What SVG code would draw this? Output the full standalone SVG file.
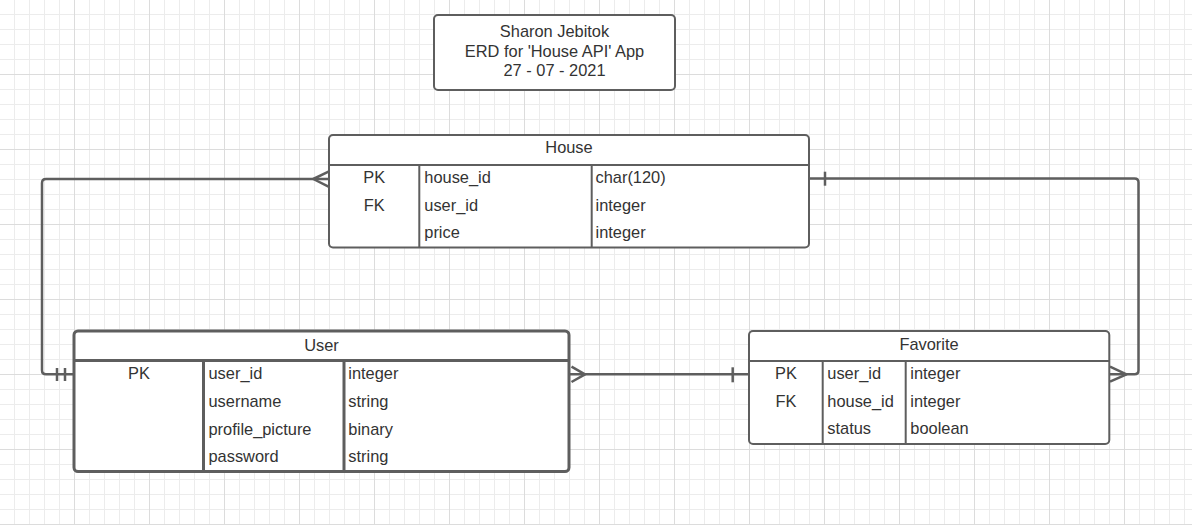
<svg xmlns="http://www.w3.org/2000/svg" width="1192" height="525" viewBox="0 0 1192 525">
  <defs>
    <pattern id="grid" patternUnits="userSpaceOnUse" x="0" y="0" width="75" height="75">
      <rect x="14" y="0" width="1" height="75" fill="#ececec"/>
      <rect x="29" y="0" width="1" height="75" fill="#ececec"/>
      <rect x="44" y="0" width="1" height="75" fill="#ececec"/>
      <rect x="59" y="0" width="1" height="75" fill="#ececec"/>
      <rect x="0" y="14" width="75" height="1" fill="#ececec"/>
      <rect x="0" y="29" width="75" height="1" fill="#ececec"/>
      <rect x="0" y="44" width="75" height="1" fill="#ececec"/>
      <rect x="0" y="59" width="75" height="1" fill="#ececec"/>
      <rect x="74" y="0" width="1" height="75" fill="#dcdcdc"/>
      <rect x="0" y="74" width="75" height="1" fill="#dcdcdc"/>
    </pattern>
  </defs>
  <style>
    .t { font-family: "Liberation Sans", Arial, sans-serif; font-size: 16.4px; fill: #333333; }
    .c { text-anchor: middle; }
    .box { fill: #ffffff; stroke: #5e5e5e; stroke-width: 2; }
    .boxb { fill: #ffffff; stroke: #5e5e5e; stroke-width: 3; }
    .ln { fill: none; stroke: #5e5e5e; stroke-width: 2; }
    .lnb { fill: none; stroke: #5e5e5e; stroke-width: 3; }
    .conn { fill: none; stroke: #5e5e5e; stroke-width: 2.5; stroke-linejoin: round; }
  </style>
  <rect x="0" y="0" width="1192" height="525" fill="#ffffff"/>
  <rect x="0" y="0" width="1192" height="525" fill="url(#grid)"/>

  <g id="title">
    <rect class="box" x="434" y="15" width="241" height="75" rx="4"/>
    <text class="t c" x="554.5" y="37.3">Sharon Jebitok</text>
    <text class="t c" x="554.5" y="56.8">ERD for 'House API' App</text>
    <text class="t c" x="554.5" y="76.3">27 - 07 - 2021</text>
  </g>

  <g id="connectors">
    <!-- House (many) to User (one and only one) -->
    <path class="conn" d="M329,179 H46 Q42,179 42,183 V370.3 Q42,374.3 46,374.3 H73"/>
    <path class="conn" d="M328.5,171.7 L313.3,179 L328.5,186.7"/>
    <path class="conn" d="M57,368 V381 M65,368 V381"/>
    <!-- House (one) to Favorite (many) -->
    <path class="conn" d="M809,178.5 H1134.5 Q1138.5,178.5 1138.5,182.5 V370.3 Q1138.5,374.3 1134.5,374.3 H1110"/>
    <path class="conn" d="M825,171.7 V185.7"/>
    <path class="conn" d="M1110,366.7 L1126.5,374.3 L1110,381.7"/>
    <!-- User (many) to Favorite (one) -->
    <path class="conn" d="M569,374.3 H749"/>
    <path class="conn" d="M571.5,366.7 L585,374.3 L571.5,382"/>
    <path class="conn" d="M732.7,367.3 V382.3"/>
  </g>

  <g id="house">
    <rect class="box" x="329" y="135" width="480" height="112.5" rx="4"/>
    <path class="ln" d="M329,165 H809 M419.3,165 V247.5 M591.7,165 V247.5"/>
    <text class="t c" x="569" y="153.3">House</text>
    <text class="t c" x="374.2" y="183.3">PK</text>
    <text class="t c" x="374.2" y="211">FK</text>
    <text class="t" x="424.3" y="183.3">house_id</text>
    <text class="t" x="424.3" y="211">user_id</text>
    <text class="t" x="424.3" y="237.7">price</text>
    <text class="t" x="595.5" y="183.3">char(120)</text>
    <text class="t" x="595.5" y="211">integer</text>
    <text class="t" x="595.5" y="237.7">integer</text>
  </g>

  <g id="user">
    <rect class="boxb" x="74" y="331" width="495" height="140.5" rx="4"/>
    <path class="lnb" d="M74,360.5 H569 M203.5,360.5 V471.5 M344,360.5 V471.5"/>
    <text class="t c" x="321.5" y="351">User</text>
    <text class="t c" x="139" y="379">PK</text>
    <text class="t" x="208.5" y="379">user_id</text>
    <text class="t" x="208.5" y="407">username</text>
    <text class="t" x="208.5" y="435">profile_picture</text>
    <text class="t" x="208.5" y="462">password</text>
    <text class="t" x="348.3" y="379">integer</text>
    <text class="t" x="348.3" y="407">string</text>
    <text class="t" x="348.3" y="435">binary</text>
    <text class="t" x="348.3" y="462">string</text>
  </g>

  <g id="favorite">
    <rect class="box" x="749" y="331" width="360.3" height="113" rx="4"/>
    <path class="ln" d="M749,361 H1109.3 M822.7,361 V444 M905.7,361 V444"/>
    <text class="t c" x="929" y="349.6">Favorite</text>
    <text class="t c" x="786" y="378.6">PK</text>
    <text class="t c" x="786" y="406.6">FK</text>
    <text class="t" x="827.3" y="378.6">user_id</text>
    <text class="t" x="827.3" y="406.6">house_id</text>
    <text class="t" x="827.3" y="434.4">status</text>
    <text class="t" x="910.3" y="378.6">integer</text>
    <text class="t" x="910.3" y="406.6">integer</text>
    <text class="t" x="910.3" y="434.4">boolean</text>
  </g>
</svg>
